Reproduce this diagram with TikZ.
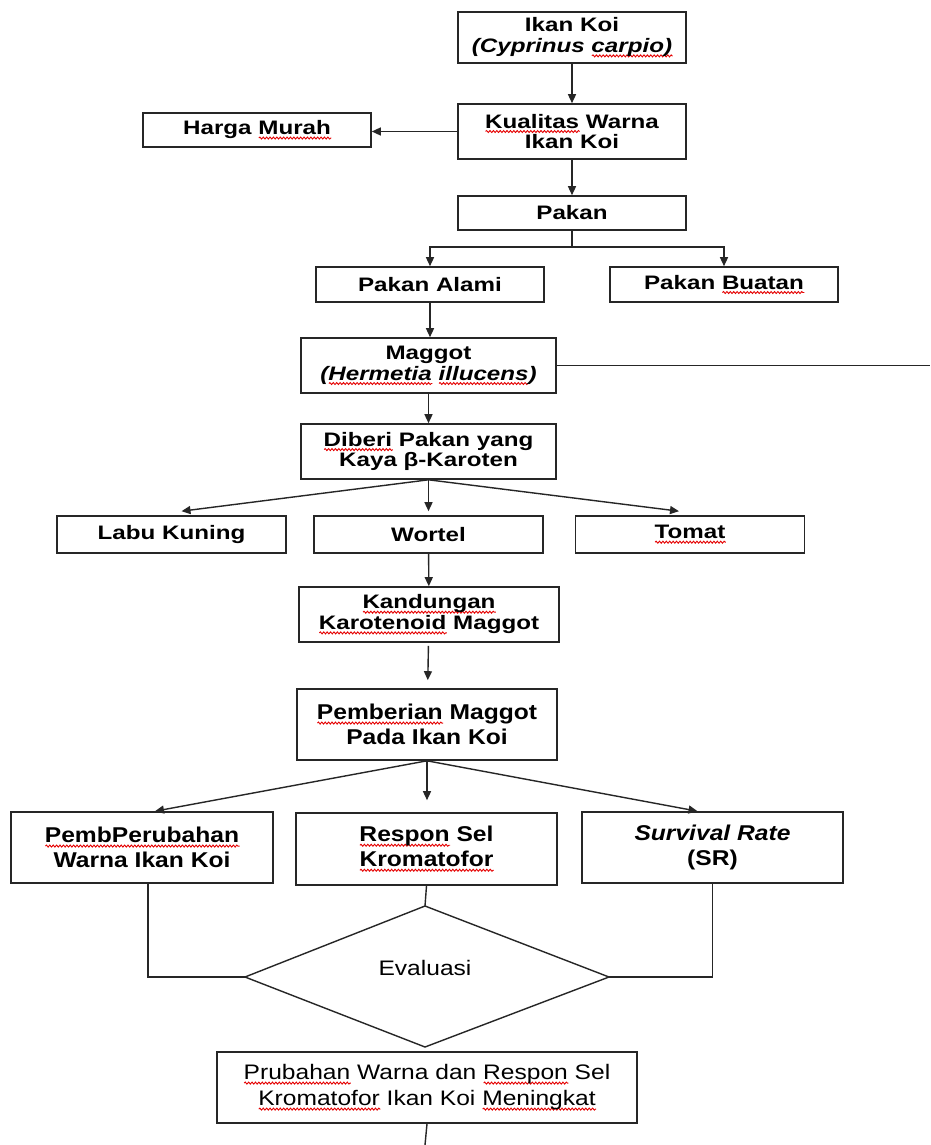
\documentclass[tikz,border=0pt]{standalone}
\usepackage{fontspec}
\usetikzlibrary{arrows.meta,calc,decorations.pathmorphing}
\newfontfamily\fa[FakeStretch=1.24]{Liberation Sans}
\newfontfamily\fb[FakeStretch=1.15]{Liberation Sans}
\newfontfamily\fc[FakeStretch=1.17]{Liberation Sans}
\newlength\sqwd
\newcommand\sq[1]{\setbox0\hbox{#1}\setlength\sqwd{\wd0}\leavevmode\rlap{\tikz[baseline=0pt,x=1pt,y=1pt]{\draw[red!90!black,line width=0.9pt,decorate,decoration={snake,amplitude=1pt,segment length=3.4pt}] (0,-3.4) -- (\sqwd,-3.4);}}\box0\relax}
\begin{document}
\begin{tikzpicture}[x=1pt,y=-1pt,
  box/.style={draw=black!85,line width=1.6pt,rectangle,inner sep=0pt,align=center},
  ta/.style={font=\fa\bfseries\fontsize{19.5}{20.7}\selectfont},
  tb/.style={font=\fb\bfseries\fontsize{21.4}{25}\selectfont},
  tr/.style={font=\fc\fontsize{21}{26}\selectfont},
  arr/.style={-{Triangle[length=9pt,width=8pt]},line width=1.4pt,draw=black!85},
  ln/.style={line width=1.4pt,draw=black!85}]
\useasboundingbox (0,0) rectangle (930,1145);
\fill[white] (0,0) rectangle (930,1145);

\node[box,ta,minimum width=228pt,minimum height=51pt] (koi) at (572,37.5) {Ikan Koi\\\textit{(Cyprinus \sq{carpio)}}};
\node[box,ta,minimum width=228pt,minimum height=55pt] (kual) at (572,131.5) {\sq{Kualitas} Warna\\Ikan Koi};
\node[box,ta,minimum width=228pt,minimum height=34pt] (harga) at (257,130) {Harga \sq{Murah}};
\node[box,ta,minimum width=228pt,minimum height=34pt] (pakan) at (572,213) {Pakan};
\node[box,ta,minimum width=228pt,minimum height=35pt] (alami) at (430,284.5) {Pakan Alami};
\node[box,ta,minimum width=228pt,minimum height=35pt] (buatan) at (724,284.5) {Pakan \sq{Buatan}};
\node[box,ta,minimum width=255pt,minimum height=55pt] (maggot) at (428.5,365.5) {Maggot\\\textit{(\sq{Hermetia} \sq{illucens})}};
\node[box,ta,minimum width=255pt,minimum height=55pt] (diberi) at (428.5,451.5) {\sq{Diberi} Pakan yang\\Kaya β-Karoten};
\node[box,ta,minimum width=229pt,minimum height=37pt] (labu) at (171.5,534.5) {Labu Kuning};
\node[box,ta,minimum width=229pt,minimum height=37pt] (wortel) at (428.5,534.5) {Wortel};
\node[box,ta,minimum width=229pt,minimum height=37pt] (tomat) at (690,534.5) {\sq{Tomat}};
\node[box,ta,minimum width=260pt,minimum height=55pt] (kand) at (429,614.5) {\sq{Kandungan}\\\sq{Karotenoid} Maggot};
\node[box,tb,minimum width=260pt,minimum height=71pt] (pemb) at (427,724.5) {\sq{Pemberian} Maggot\\Pada Ikan Koi};
\node[box,tb,minimum width=262pt,minimum height=71pt] (perub) at (142,847.5) {\sq{PembPerubahan}\\Warna Ikan Koi};
\node[box,tb,minimum width=261pt,minimum height=72pt] (respon) at (426.5,849) {\sq{Respon} Sel\\\sq{Kromatofor}};
\node[box,tb,minimum width=261pt,minimum height=71pt] (surv) at (712.5,847.5) {\textit{Survival Rate}\\(SR)};
\node[box,tr,minimum width=420pt,minimum height=71pt] (final) at (427,1087.5) {\sq{Prubahan} Warna dan \sq{Respon} Sel\\\sq{Kromatofor} Ikan Koi \sq{Meningkat}};

\coordinate (dT) at (425,906);
\coordinate (dL) at (245,977);
\coordinate (dR) at (609,977);
\coordinate (dB) at (425,1047);
\draw[ln] (dT) -- (dR) -- (dB) -- (dL) -- cycle;
\node[tr] (ev) at (425,968) {Evaluasi};

\draw[arr] (koi) -- (kual);
\draw[arr] (kual.west) -- (kual.west -| harga.east);
\draw[arr] (kual) -- (pakan);
\draw[ln] (pakan.south) -- ++(0,16) coordinate (br);
\draw[arr] (br) -| (alami.north);
\draw[arr] (br) -| (buatan.north);
\draw[arr] (alami.south) -- (alami.south |- maggot.north);
\coordinate (edge) at (930,365.5);
\draw[ln] (maggot.east) -- (edge);
\draw[arr] (maggot) -- (diberi);
\draw[arr] (diberi.south) -- ([xshift=10pt,yshift=4pt]labu.north);
\draw[arr] (diberi.south) -- ([yshift=4pt]wortel.north);
\draw[arr] (diberi.south) -- ([xshift=-11pt,yshift=4pt]tomat.north);
\draw[arr] (wortel) -- (kand);
\draw[arr,shorten >=8pt,shorten <=3pt] (kand) -- (pemb);
\draw[arr] (pemb.south) -- ([xshift=13pt]perub.north);
\draw[arr,shorten >=12pt] (pemb.south) -- (pemb.south |- respon.north);
\draw[arr] (pemb.south) -- ([xshift=-15pt]surv.north);
\draw[ln] ([xshift=6pt]perub.south) |- (dL);
\draw[ln] (respon.south) -- (dT);
\draw[ln] (surv.south) |- (dR);
\coordinate (bot) at (425,1145);
\draw[ln] (final.south) -- (bot);
\end{tikzpicture}
\end{document}
